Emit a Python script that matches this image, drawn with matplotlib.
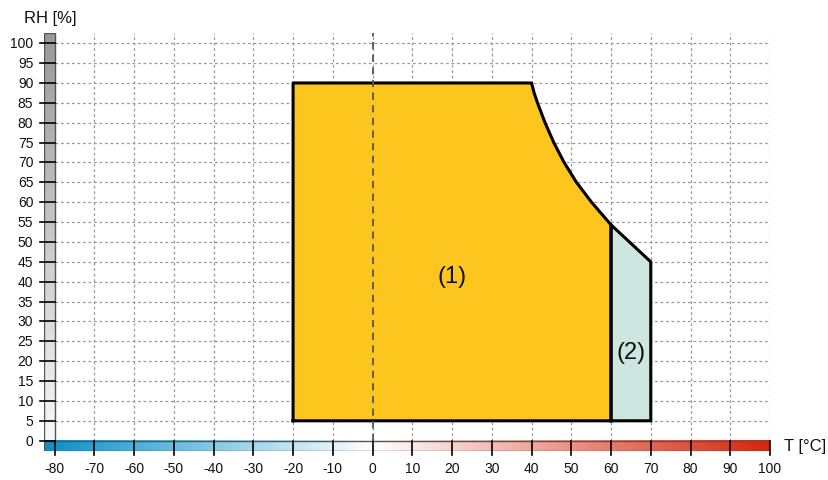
import numpy as np
import matplotlib
matplotlib.use("Agg")
import matplotlib.pyplot as plt
from matplotlib.colors import LinearSegmentedColormap

plt.rcParams['font.family'] = ['Liberation Sans', 'DejaVu Sans']

# ---- data ----
x_ticks = [-80, -70, -60, -50, -40, -30, -20, -10, 0, 10, 20, 30, 40, 50, 60, 70, 80, 90, 100]
y_ticks = [0, 5, 10, 15, 20, 25, 30, 35, 40, 45, 50, 55, 60, 65, 70, 75, 80, 85, 90, 95, 100]

# Region (1): operating area (upper-right edge)
region1_T = [-20, -20, 40, 40.65, 41.5, 43.4, 45.6, 48.2, 51.3, 55.1, 59.4, 60, 60]
region1_RH = [5, 90, 90, 87.5, 85, 80, 75, 70, 65, 60, 55, 54.3, 5]
# Region (2): extended area
region2_T = [60, 60, 70, 70]
region2_RH = [5, 54.3, 45, 5]

label1 = ("(1)", 20, 41.5)
label2 = ("(2)", 65, 22.3)

# ---- layout ----
W, H = 829, 481
fig = plt.figure(figsize=(W / 100, H / 100), dpi=100)
left_px, right_px, top_px, bot_px = 44.3, 770.0, 34.3, 452.0
ax = fig.add_axes([left_px / W, 1 - bot_px / H, (right_px - left_px) / W, (bot_px - top_px) / H])
xmin, xmax = -82.6, 100
ymin, ymax = -2.6, 102.5
ax.set_xlim(xmin, xmax)
ax.set_ylim(ymin, ymax)
for s in ax.spines.values():
    s.set_visible(False)
ax.set_xticks([])
ax.set_yticks([])

bar_r = -79.8  # right edge of RH bar (in T units)

# grid
grid_kw = dict(color='#9a9a9a', lw=0.9, linestyle=(0, (2.2, 2.2)), zorder=1)
for t in x_ticks[1:]:
    ax.plot([t, t], [0, ymax], **grid_kw)
for r in y_ticks[1:]:
    ax.plot([bar_r, xmax], [r, r], **grid_kw)

# regions
ax.fill(region1_T, region1_RH, facecolor='#FDC61E', edgecolor='none', zorder=2)
ax.fill(region2_T, region2_RH, facecolor='#CDE6DF', edgecolor='none', zorder=2)
ax.plot(region1_T + [region1_T[0]], region1_RH + [region1_RH[0]], color='black', lw=2.2,
        solid_joinstyle='round', zorder=3)
ax.plot(region2_T + [region2_T[0]], region2_RH + [region2_RH[0]], color='black', lw=2.2,
        solid_joinstyle='miter', zorder=3)

# zero line
ax.plot([0, 0], [0, ymax], color='#555555', lw=1.3, linestyle=(0, (4, 3)), zorder=4)

# RH gradient bar (gray)
gray_cmap = LinearSegmentedColormap.from_list('g', ['#f8f8f8', '#999999'])
grad = np.linspace(0, 1, 256).reshape(-1, 1)
ax.imshow(grad, cmap=gray_cmap, extent=[xmin, bar_r, 0, ymax], origin='lower',
          aspect='auto', zorder=5)
ax.add_patch(plt.Rectangle((xmin, 0), bar_r - xmin, ymax, fill=False, ec='#555555', lw=1, zorder=6))

# T gradient bar (blue-white-red)
frac0 = (0 - xmin) / (xmax - xmin)
temp_cmap = LinearSegmentedColormap.from_list(
    't', [(0, '#0A8FC8'), (frac0, '#ffffff'), (1, '#D6260C')])
gradx = np.linspace(0, 1, 512).reshape(1, -1)
ax.imshow(gradx, cmap=temp_cmap, extent=[xmin, xmax, ymin, 0], origin='lower',
          aspect='auto', zorder=5)
ax.add_patch(plt.Rectangle((xmin, ymin), xmax - xmin, -ymin, fill=False, ec='#555555', lw=1, zorder=6))

# tick marks
px_t = (xmax - xmin) / (right_px - left_px)
px_r = (ymax - ymin) / (bot_px - top_px)
for r in y_ticks:
    ax.plot([xmin - 4 * px_t, bar_r], [r, r], color='black', lw=1.2, zorder=7, clip_on=False)
for t in x_ticks:
    ax.plot([t, t], [0, ymin - 4 * px_r], color='black', lw=1.2, zorder=7, clip_on=False)

# tick labels
for r in y_ticks:
    ax.text(xmin - 11 * px_t, r, str(r), ha='right', va='center', fontsize=10, color='#111111')
for t in x_ticks:
    ax.text(t, ymin - 10 * px_r, str(t), ha='center', va='top', fontsize=10, color='#111111')

# axis labels
ax.text((xmin + bar_r) / 2, ymax + 4.0, 'RH [%]', ha='center', va='center', fontsize=12, color='#111111')
ax.text(xmax + 14 * px_t, ymin / 2, 'T [°C]', ha='left', va='center', fontsize=12, color='#111111')

# region labels
ax.text(label1[1], label1[2], label1[0], ha='center', va='center', fontsize=17, color='#111111', zorder=8)
ax.text(label2[1], label2[2], label2[0], ha='center', va='center', fontsize=17, color='#111111', zorder=8)

fig.savefig('out.png', dpi=100)
